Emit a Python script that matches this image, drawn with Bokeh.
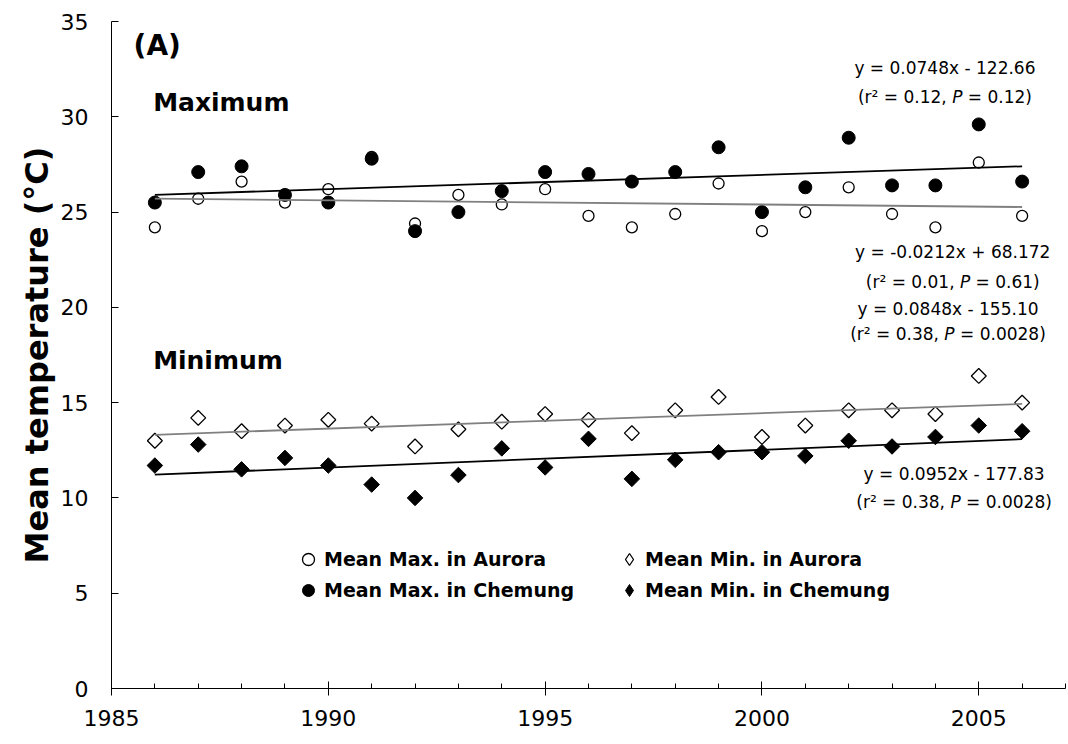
import numpy as np
from bokeh.plotting import figure
from bokeh.models import Range1d, SingleIntervalTicker, Legend, LegendItem
from bokeh.core.properties import value
from bokeh.embed import file_html
from bokeh.resources import INLINE

# ---- data: annual mean temperatures (°C), 1986-2006 ----
years = list(range(1986, 2007))
max_aurora = [24.2, 25.7, 26.6, 25.5, 26.2, 27.9, 24.4, 25.9, 25.4, 26.2, 24.8,
              24.2, 24.9, 26.5, 24.0, 25.0, 26.3, 24.9, 24.2, 27.6, 24.8]
max_chemung = [25.5, 27.1, 27.4, 25.9, 25.5, 27.8, 24.0, 25.0, 26.1, 27.1, 27.0,
               26.6, 27.1, 28.4, 25.0, 26.3, 28.9, 26.4, 26.4, 29.6, 26.6]
min_aurora = [13.0, 14.2, 13.5, 13.8, 14.1, 13.9, 12.7, 13.6, 14.0, 14.4, 14.1,
              13.4, 14.6, 15.3, 13.2, 13.8, 14.6, 14.6, 14.4, 16.4, 15.0]
min_chemung = [11.7, 12.8, 11.5, 12.1, 11.7, 10.7, 10.0, 11.2, 12.6, 11.6, 13.1,
               11.0, 12.0, 12.4, 12.4, 12.2, 13.0, 12.7, 13.2, 13.8, 13.5]

# regression statements printed beside each trend line
eq_labels = ["y = 0.0748x - 122.66", "y = -0.0212x + 68.172",
             "y = 0.0848x - 155.10", "y = 0.0952x - 177.83"]
r2_labels = ["0.12", "0.01", "0.38", "0.38"]
p_labels = ["0.12", "0.61", "0.0028", "0.0028"]

FONT = "DejaVu Sans"
NBSP = "\u00a0"

p = figure(width=1068, height=744, output_backend="svg", toolbar_location=None,
           x_range=Range1d(1985, 2007), y_range=Range1d(0, 35),
           min_border_left=111, min_border_right=3, min_border_top=21,
           min_border_bottom=56)
p.outline_line_color = None
p.xgrid.visible = False
p.ygrid.visible = False
p.background_fill_color = "white"
p.border_fill_color = "white"

# ---- axes ----
p.xaxis.ticker = SingleIntervalTicker(interval=5, num_minor_ticks=5)
p.yaxis.ticker = SingleIntervalTicker(interval=5, num_minor_ticks=0)
for ax in (p.xaxis, p.yaxis):
    ax.axis_line_color = "black"
    ax.major_tick_line_color = "black"
    ax.minor_tick_line_color = "black"
    ax.major_label_text_font = FONT
    ax.major_label_text_font_size = "22px"
    ax.major_label_text_color = "black"
p.xaxis.major_tick_in = 7
p.xaxis.major_tick_out = 7
p.xaxis.minor_tick_in = 5
p.xaxis.minor_tick_out = 0
p.xaxis.major_label_standoff = 14
p.yaxis.major_tick_in = 7
p.yaxis.major_tick_out = 0
p.yaxis.minor_tick_in = 0
p.yaxis.minor_tick_out = 0
p.yaxis.major_label_standoff = 23
p.yaxis.axis_label = "Mean temperature (°C)"
p.yaxis.axis_label_text_font = FONT
p.yaxis.axis_label_text_font_style = "bold"
p.yaxis.axis_label_text_font_size = "32px"
p.yaxis.axis_label_text_color = "black"
p.yaxis.axis_label_standoff = 2

# ---- markers ----
r_ma = p.scatter(years, max_aurora, marker="circle", size=11, fill_color="white",
                 line_color="black", line_width=1.3)
r_mc = p.scatter(years, max_chemung, marker="circle", size=13, fill_color="black",
                 line_color="black", line_width=1)
p.scatter(years, min_aurora, marker="square", angle=np.pi / 4, size=10.5,
          fill_color="white", line_color="black", line_width=1.3)
p.scatter(years, min_chemung, marker="square", angle=np.pi / 4, size=11,
          fill_color="black", line_color="black", line_width=1)

# ---- least-squares trend lines ----
yrs = np.array(years, dtype=float)
for series, color in ((max_aurora, "#808080"), (max_chemung, "black"),
                      (min_aurora, "#808080"), (min_chemung, "black")):
    slope, icpt = np.polyfit(yrs, np.array(series), 1)
    ends = np.array([yrs[0], yrs[-1]])
    p.line(ends, slope * ends + icpt, line_color=color, line_width=1.8)

# ---- equation boxes ----
ADV = {' ': 318, NBSP: 318, '(': 390, ')': 390, '+': 838, '=': 838, ',': 318,
       '.': 318, '-': 361, 'x': 592, 'y': 592, 'r': 411, 'P': 603, '²': 401}
for d in "0123456789":
    ADV[d] = 636


def text_width(s, size):
    return sum(ADV[c] for c in s) * size / 1000.0


EQ_SIZE = 17
eq_x = [2004.22, 2004.40, 2004.29, 2004.43]
eq_y = [32.54, 22.90, 19.93, 11.27]
stat_y = [31.03, 21.33, 18.62, 9.78]

for i in range(4):
    p.text(x=[eq_x[i]], y=[eq_y[i]], text=[eq_labels[i]], text_font=value(FONT),
           text_font_size=f"{EQ_SIZE}px", text_align="center",
           text_baseline="middle", text_color="black")
    pre = f"(r² = {r2_labels[i]}, "
    post = f"{NBSP}= {p_labels[i]})"
    w_pre = text_width(pre, EQ_SIZE)
    w_p = text_width("P", EQ_SIZE)
    w_post = text_width(post, EQ_SIZE)
    left = -(w_pre + w_p + w_post) / 2.0
    pieces = [(pre, left, "normal"), ("P", left + w_pre, "italic"),
              (post, left + w_pre + w_p, "normal")]
    for txt, off, style in pieces:
        p.text(x=[eq_x[i]], y=[stat_y[i]], text=[txt], x_offset=off,
               text_font=value(FONT), text_font_size=f"{EQ_SIZE}px",
               text_font_style=style, text_align="left",
               text_baseline="middle", text_color="black")

# ---- panel titles ----
p.text(x=[1985.51], y=[33.75], text=["(A)"], text_font=value(FONT),
       text_font_size="28px", text_font_style="bold", text_baseline="middle",
       text_color="black")
p.text(x=[1985.96, 1985.96], y=[30.77, 17.22], text=["Maximum", "Minimum"],
       text_font=value(FONT), text_font_size="25px", text_font_style="bold",
       text_baseline="middle", text_color="black")

# ---- legend (diamond keys come from off-scale placeholder glyphs) ----
leg_od = p.scatter([np.nan], [np.nan], marker="diamond", fill_color="white",
                   line_color="black", line_width=1.3)
leg_fd = p.scatter([np.nan], [np.nan], marker="diamond", fill_color="black",
                   line_color="black", line_width=1)

common = dict(orientation="vertical", glyph_width=30, glyph_height=30,
              spacing=1, padding=0, margin=0, label_standoff=1,
              border_line_color=None, background_fill_alpha=0,
              label_text_font=FONT, label_text_font_style="bold",
              label_text_font_size="19px", label_text_color="black")
leg1 = Legend(items=[LegendItem(label="Mean Max. in Aurora", renderers=[r_ma]),
                     LegendItem(label="Mean Max. in Chemung", renderers=[r_mc])],
              location=(182, 83), **common)
leg2 = Legend(items=[LegendItem(label="Mean Min. in Aurora", renderers=[leg_od]),
                     LegendItem(label="Mean Min. in Chemung", renderers=[leg_fd])],
              location=(503, 83), **common)
p.add_layout(leg1)
p.add_layout(leg2)

open("out.html", "w").write(file_html(p, INLINE))
